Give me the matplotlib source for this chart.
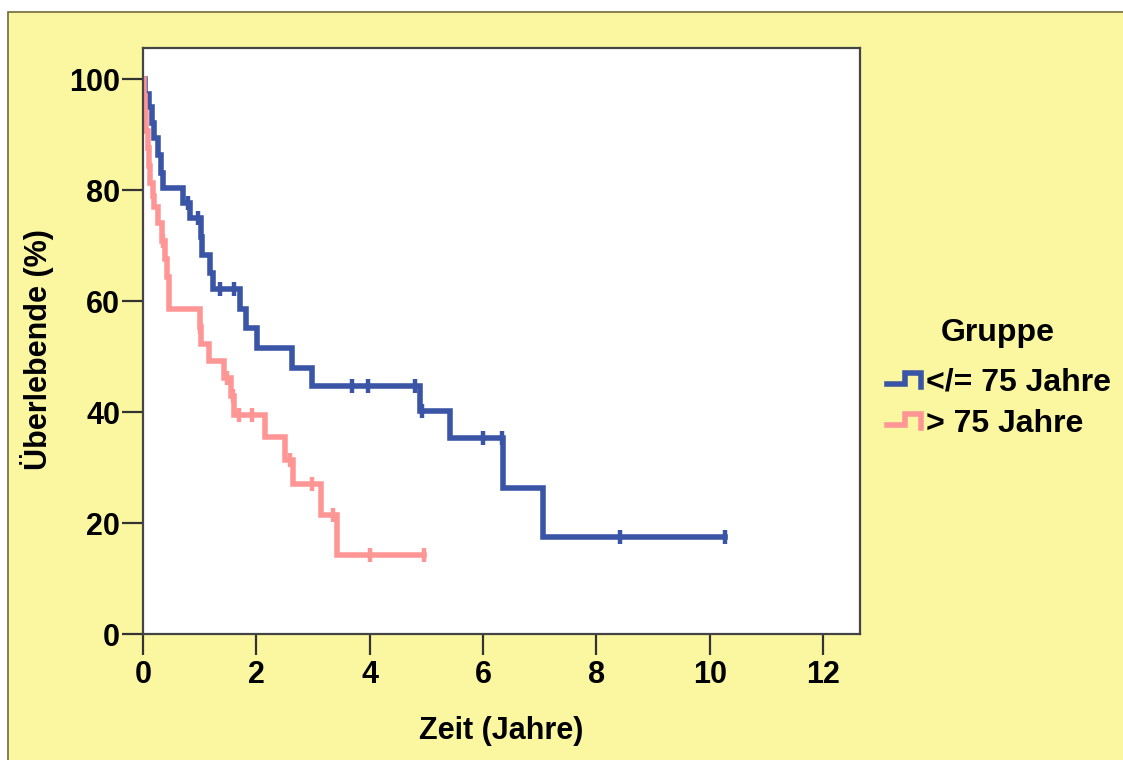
"""
km_plot.py — Kaplan-Meier Überlebenskurven nach Altersgruppe
"""
import numpy as np
import matplotlib
matplotlib.use("Agg")
import matplotlib.pyplot as plt
from matplotlib.lines import Line2D
from matplotlib.patches import Rectangle

plt.rcParams["font.family"] = ["Liberation Sans", "DejaVu Sans"]
plt.rcParams["font.weight"] = "bold"

# Gruppe </= 75 Jahre: Ereigniszeiten (Jahre) und Überleben (%)
young_times = [0, 0.04, 0.10, 0.16, 0.20, 0.26, 0.32, 0.35, 0.71, 0.83, 1.02, 1.04,
               1.18, 1.24, 1.71, 1.82, 2.01, 2.62, 2.98, 4.88, 5.42, 6.35, 7.05]
young_surv = [100, 97.3, 95.0, 92.0, 89.3, 86.3, 83.0, 80.3, 77.6, 75.0, 71.6, 68.3,
              65.0, 62.2, 58.5, 55.1, 51.6, 48.0, 44.7, 40.1, 35.3, 26.3, 17.5]
young_censored = [0.79, 0.97, 1.36, 1.61, 3.69, 3.97, 4.80, 4.93, 5.99, 6.33, 8.42, 10.26]

# Gruppe > 75 Jahre
old_times = [0, 0.02, 0.04, 0.06, 0.08, 0.10, 0.13, 0.17, 0.20, 0.27, 0.33, 0.39,
             0.42, 0.45, 1.00, 1.02, 1.17, 1.43, 1.56, 1.61, 2.15, 2.51, 2.64,
             3.14, 3.42]
old_surv = [100, 96.9, 93.8, 90.6, 87.5, 84.4, 81.3, 79.0, 77.0, 74.0, 70.8, 67.6,
            64.4, 58.5, 55.4, 52.3, 49.2, 46.1, 42.8, 39.4, 35.5, 31.4, 27.0,
            21.4, 14.2]
old_censored = [0.36, 1.01, 1.48, 1.58, 1.70, 1.93, 2.60, 2.98, 3.35, 4.00, 4.95]

group_labels = ["</= 75 Jahre", "> 75 Jahre"]
x_ticks = [0, 2, 4, 6, 8, 10, 12]
y_ticks = [0, 20, 40, 60, 80, 100]

BLUE = "#3A54A6"
PINK = "#FF9696"
YELLOW = "#FAF7A0"


def draw_curve(ax, times, surv, censored, color):
    """Treppenkurve bis zur letzten Beobachtung + Zensurmarken"""
    t = np.array(times + [censored[-1]])
    s = np.array(surv + [surv[-1]])
    ax.step(t, s, where="post", color=color, lw=4.0, solid_joinstyle="miter")

    idx = np.searchsorted(times, censored, side="right") - 1
    cs = np.array(surv)[idx]
    ax.plot(censored, cs, ls="none", marker="|", ms=10, mew=3.2, color=color)


def main():
    fig = plt.figure(figsize=(11.23, 7.6), dpi=100)
    fig.patch.set_facecolor("white")

    # gelber Hintergrund mit Rand
    fig.add_artist(Rectangle((8 / 1123, -0.01), 1.02, 1 - 12 / 760 + 0.01,
                             transform=fig.transFigure, facecolor=YELLOW,
                             edgecolor="#6E6B3C", lw=1.2, zorder=0))

    ax = fig.add_axes([143 / 1123, 1 - 634 / 760, 717 / 1123, 586 / 760])
    ax.set_facecolor("white")

    draw_curve(ax, young_times, young_surv, young_censored, BLUE)
    draw_curve(ax, old_times, old_surv, old_censored, PINK)

    ax.set_xlim(0, 12.65)
    ax.set_ylim(0, 105.6)
    ax.set_xticks(x_ticks)
    ax.set_yticks(y_ticks)
    ax.tick_params(axis="both", direction="out", length=15, width=1.6,
                   color="#333333", labelsize=22)
    ax.tick_params(axis="x", pad=4)
    ax.tick_params(axis="y", pad=1.5)
    for lab in ax.get_xticklabels() + ax.get_yticklabels():
        lab.set_fontweight("bold")
    for sp in ax.spines.values():
        sp.set_color("#444444")
        sp.set_linewidth(1.6)

    fig.text(501 / 1123, 1 - 731 / 760, "Zeit (Jahre)", ha="center", va="center",
             fontsize=22, fontweight="bold")
    fig.text(37 / 1123, 1 - 350 / 760, "Überlebende (%)", ha="center", va="center",
             rotation=90, fontsize=22, fontweight="bold")

    # Legende von Hand (Treppen-Symbol)
    fig.text(998 / 1123, 1 - 333 / 760, "Gruppe", ha="center", va="center",
             fontsize=23, fontweight="bold")
    for i, (label, color) in enumerate(zip(group_labels, [BLUE, PINK])):
        yc = 383 + i * 41
        hx = np.array([887, 905, 905, 921, 921]) / 1123
        hy = 1 - np.array([yc + 1, yc + 1, yc - 10, yc - 10, yc + 4]) / 760
        fig.add_artist(Line2D(hx, hy, transform=fig.transFigure, color=color,
                              lw=4.0, solid_joinstyle="miter"))
        fig.text(926 / 1123, 1 - yc / 760, label, ha="left", va="center",
                 fontsize=23, fontweight="bold")

    fig.savefig("out.png", dpi=100, facecolor=fig.get_facecolor())


if __name__ == "__main__":
    main()
